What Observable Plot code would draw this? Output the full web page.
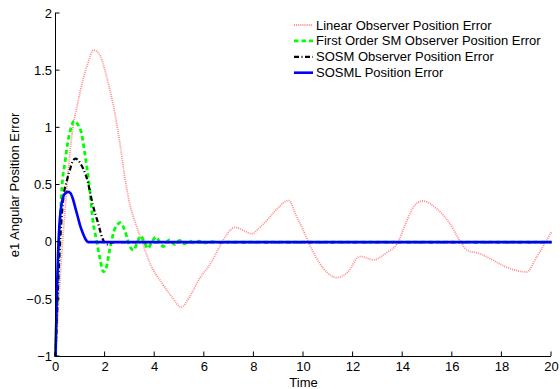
<!DOCTYPE html>
<html>
<head>
<meta charset="utf-8">
<script src="https://cdn.jsdelivr.net/npm/d3@7"></script>
<script src="https://cdn.jsdelivr.net/npm/@observablehq/plot@0.6"></script>
<style>
  html, body { margin: 0; padding: 0; background: #fff; }
  #chart { position: relative; width: 560px; height: 389px; }
</style>
</head>
<body>
<div id="chart"></div>
<script>
// ---- data ----
const seriesNames = [
  "Linear Observer Position Error",
  "First Order SM Observer Position Error",
  "SOSM Observer Position Error",
  "SOSML Position Error"
];
const xTicks = [0, 2, 4, 6, 8, 10, 12, 14, 16, 18, 20];
const yTicks = [-1, -0.5, 0, 0.5, 1, 1.5, 2];

const linearT = [0,0.15,0.3,0.45,0.6,0.73,0.86,1.0,1.13,1.3,1.53,1.75,2.07,2.25,2.4,2.6,2.8,3.0,3.25,3.5,3.8,4.3,4.7,5.07,5.4,5.83,6.24,6.64,6.91,7.25,7.6,7.92,8.2,8.52,8.93,9.4,9.73,10.0,10.2,10.5,10.8,11.35,11.9,12.15,12.3,12.82,13.36,13.77,14.17,14.44,14.8,15.38,15.91,16.3,16.6,17.1,17.66,18.2,19.0,19.4,19.8,20];
const linearV = [-1,-0.45,0.05,0.45,0.82,1.04,1.18,1.32,1.44,1.56,1.68,1.65,1.44,1.28,1.12,0.86,0.56,0.33,0.15,0.0,-0.18,-0.36,-0.48,-0.57,-0.48,-0.31,-0.19,-0.03,0.07,0.13,0.1,0.073,0.12,0.19,0.29,0.365,0.22,0.1,0.0,-0.13,-0.23,-0.31,-0.23,-0.14,-0.125,-0.155,-0.09,-0.015,0.19,0.31,0.36,0.29,0.16,0.015,-0.07,-0.1,-0.16,-0.22,-0.26,-0.13,0.015,0.09];

const firstT = [0,0.1,0.2,0.26,0.39,0.5,0.6,0.75,0.9,1.05,1.2,1.35,1.5,1.65,1.8,1.93,2.05,2.2,2.4,2.62,2.8,3.0,3.15,3.3,3.44,3.58,3.72,3.88,4.05,4.2,4.35,4.48,4.6,4.8,5.0,5.2,5.4,5.6,5.8,6.0,6.3,6.6,7.0,20];
const firstV = [-1,-0.3,0.25,0.48,0.71,0.88,0.98,1.06,1.03,0.95,0.75,0.52,0.2,0.02,-0.15,-0.26,-0.22,-0.05,0.12,0.17,0.1,-0.04,-0.07,0.0,0.055,0.0,-0.055,0.0,0.045,0.0,-0.038,0.0,0.02,-0.02,0.015,-0.015,0.012,-0.01,0.008,-0.006,0.004,-0.003,0,0];

const sosmT = [0,0.1,0.2,0.32,0.46,0.59,0.7,0.8,0.9,1.0,1.1,1.2,1.3,1.4,1.5,1.6,1.7,1.8,1.9,2.0,2.1,2.25,2.4,20];
const sosmV = [-1,-0.4,0.05,0.39,0.54,0.64,0.71,0.73,0.72,0.69,0.65,0.6,0.53,0.43,0.33,0.25,0.18,0.1,0.03,-0.01,-0.02,-0.005,0,0];

const sosmlT = [0,0.05,0.1,0.15,0.2,0.3,0.4,0.52,0.6,0.7,0.8,0.9,1.0,1.1,1.2,1.33,20];
const sosmlV = [-1,-0.5,-0.12,0.12,0.26,0.39,0.43,0.44,0.43,0.38,0.3,0.22,0.14,0.08,0.03,0,0];

// ---- styles ----
const styles = [
  {stroke: "#ff8a8a", strokeWidth: 1.8, dash: "1 1.1"},
  {stroke: "#00ff00", strokeWidth: 2.8, dash: "4.5 3"},
  {stroke: "#000000", strokeWidth: 2.2, dash: "5 2.5 1 2.5"},
  {stroke: "#0000ff", strokeWidth: 2.6, dash: null}
];

const toRows = (T, V) => T.map((t, i) => ({t, v: V[i]}));
const series = [
  toRows(linearT, linearV),
  toRows(firstT, firstV),
  toRows(sosmT, sosmV),
  toRows(sosmlT, sosmlV)
];

const FONT = "'Liberation Sans', Arial, Helvetica, sans-serif";

const lineMarks = series.map((rows, i) => Plot.line(rows, {
  x: "t", y: "v",
  stroke: styles[i].stroke,
  strokeWidth: styles[i].strokeWidth,
  strokeDasharray: styles[i].dash || undefined,
  strokeLinecap: "butt",
  curve: "monotone-x"
}));

const plot = Plot.plot({
  width: 560,
  height: 389,
  marginLeft: 55,
  marginRight: 9,
  marginTop: 13,
  marginBottom: 33,
  style: {fontFamily: FONT, fontSize: "13px", color: "#000", background: "#fff"},
  x: {domain: [0, 20]},
  y: {domain: [-1, 2]},
  marks: [
    ...lineMarks,
    Plot.ruleX([0], {stroke: "#000", strokeWidth: 1}),
    Plot.ruleY([-1], {stroke: "#000", strokeWidth: 1}),
    Plot.axisX({ticks: xTicks, tickSize: 0, tickPadding: 5, tickFormat: d => String(d),
      label: "Time", labelAnchor: "center", labelArrow: "none", labelOffset: 30, fontSize: 13}),
    Plot.axisY({ticks: yTicks, tickSize: 0, tickPadding: 3.5,
      tickFormat: d => (d < 0 ? "\u2212" : "") + String(Math.abs(d)),
      label: "e1 Angular Position Error", labelAnchor: "center", labelArrow: "none", labelOffset: 46, fontSize: 13})
  ]
});

document.getElementById("chart").appendChild(plot);

// ---- inward tick marks, positioned through the plot's own scales ----
const svg = d3.select(plot);
const sx = plot.scale("x"), sy = plot.scale("y");
const tg = svg.append("g").attr("stroke", "#000").attr("stroke-width", 1);
xTicks.forEach(d => {
  const x = sx.apply(d), y0 = sy.apply(-1);
  tg.append("line").attr("x1", x).attr("x2", x).attr("y1", y0).attr("y2", y0 - 4.5);
});
yTicks.forEach(d => {
  const y = sy.apply(d), x0 = sx.apply(0);
  tg.append("line").attr("x1", x0).attr("x2", x0 + 4.5).attr("y1", y).attr("y2", y);
});

// ---- legend (no box) ----
const lg = svg.append("g").attr("font-family", FONT).attr("font-size", 13).attr("text-anchor", "start");
const lx0 = 294, lx1 = 313, ly0 = 25, ldy = 15.9;
seriesNames.forEach((name, i) => {
  const y = ly0 + i * ldy;
  lg.append("line")
    .attr("x1", lx0).attr("x2", lx1).attr("y1", y).attr("y2", y)
    .attr("stroke", styles[i].stroke)
    .attr("stroke-width", styles[i].strokeWidth)
    .attr("stroke-dasharray", styles[i].dash);
  lg.append("text")
    .attr("x", lx1 + 3).attr("y", y).attr("dy", "0.35em")
    .attr("fill", "#000")
    .attr("text-anchor", "start")
    .text(name);
});
</script>
</body>
</html>
